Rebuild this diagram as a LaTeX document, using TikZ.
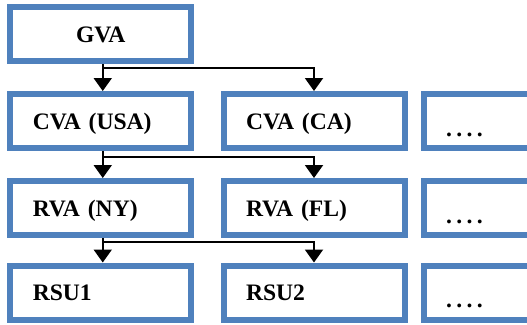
\documentclass[tikz,border=0pt]{standalone}
\usepackage{fontspec}
\setmainfont{Liberation Serif}
\usetikzlibrary{arrows.meta,calc}
\definecolor{boxblue}{RGB}{79,129,189}
\begin{document}
\begin{tikzpicture}[x=1pt,y=-1pt,
  box/.style={draw=boxblue,line width=6pt,minimum width=181pt,minimum height=54pt,
    inner xsep=22.5pt,inner ysep=0pt,text width=136pt,align=left,
    font=\fontsize{23.6}{28}\selectfont\bfseries,text height=16pt,text depth=0pt},
  centerbox/.style={box,align=center},
  dotbox/.style={box,text height=30pt},
  conn/.style={line width=2pt,-{Triangle[width=18pt,length=13pt]}}]
\path[use as bounding box,clip] (0,0) rectangle (527,324);
\node[centerbox] (gva) at (100.75,34) {GVA};
\node[box] (cvausa) at (100.75,121) {CVA (USA)};
\node[box] (cvaca) at (314,121) {CVA (CA)};
\node[dotbox] (d2) at (514,121) {.\kern4.4pt.\kern4.4pt.\kern4.4pt.};
\node[box] (rvany) at (100.75,208) {RVA (NY)};
\node[box] (rvafl) at (314,208) {RVA (FL)};
\node[dotbox] (d3) at (514,208) {.\kern4.4pt.\kern4.4pt.\kern4.4pt.};
\node[box] (rsu1) at (100.75,292.5) {RSU1};
\node[box] (rsu2) at (314,292.5) {RSU2};
\node[dotbox] (d4) at (514,292.5) {.\kern4.4pt.\kern4.4pt.\kern4.4pt.};
\coordinate (s1) at ($(gva.south)+(2,0)$);
\coordinate (s2) at ($(cvausa.south)+(2,0)$);
\coordinate (s3) at ($(rvany.south)+(2,0)$);
\coordinate (b1) at ($(s1)+(0,3.5)$);
\coordinate (b2) at ($(s2)+(0,6)$);
\coordinate (b3) at ($(s3)+(0,4)$);
\draw[conn] (s1) -- (s1 |- cvausa.north);
\draw[conn] (b1) -| (cvaca.north);
\draw[conn] (s2) -- (s2 |- rvany.north);
\draw[conn] (b2) -| (rvafl.north);
\draw[conn] (s3) -- (s3 |- rsu1.north);
\draw[conn] (b3) -| (rsu2.north);
\end{tikzpicture}
\end{document}
